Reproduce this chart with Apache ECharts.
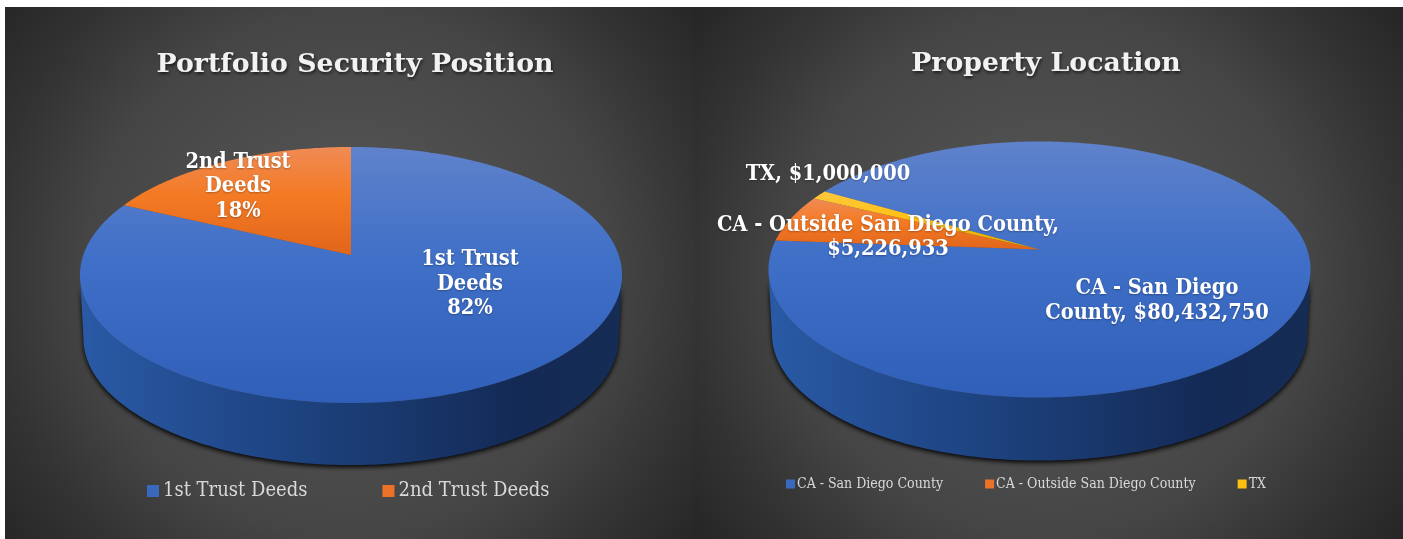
<!DOCTYPE html>
<html>
<head>
<meta charset="utf-8">
<style>
html, body { margin: 0; padding: 0; background: #fff; }
#main { width: 1403px; height: 539px; }
</style>
<script src="https://cdn.jsdelivr.net/npm/echarts@6/dist/echarts.min.js"></script>
</head>
<body>
<div id="main"></div>
<script>
var chartDom = document.getElementById('main');
var myChart = echarts.init(chartDom);
var option;

var securityNames = ['1st Trust Deeds', '2nd Trust Deeds'];
var securityValues = [82, 18];
var securityLabels = [['1st Trust', 'Deeds', '82%'], ['2nd Trust', 'Deeds', '18%']];

var locationNames = ['CA - San Diego County', 'CA - Outside San Diego County', 'TX'];
var locationValues = [80432750, 5226933, 1000000];
var locationLabels = [
    ['CA - San Diego', 'County, $80,432,750'],
    ['CA - Outside San Diego County,', '$5,226,933'],
    ['TX, $1,000,000']
];

var serifFont = '"DejaVu Serif Condensed", "DejaVu Serif", serif';
var titleFont = '"DejaVu Serif", serif';

// top face of each slice, light to dark going down
var topStops = [
    [{ offset: 0, color: '#5f82cb' }, { offset: 0.45, color: '#3f6fc7' }, { offset: 1, color: '#2f5fb8' }],
    [{ offset: 0, color: '#ef8b55' }, { offset: 0.45, color: '#f47a24' }, { offset: 1, color: '#e1651b' }],
    [{ offset: 0, color: '#ffc840' }, { offset: 0.5, color: '#ffc010' }, { offset: 1, color: '#e0a800' }]
];
var legendColors = ['#3a68bd', '#ec7228', '#fdbf12'];

// the rim of the pie is drawn in perspective, far side a bit squashed
var K = 0.15625;
var RX = 267.7;
var RY = 124.9;
var FRONT = Math.acos(-K) * 180 / Math.PI;

function rim(pie, deg) {
    var t = deg * Math.PI / 180;
    var w = 1 + K * Math.cos(t);
    return [pie.cx + RX * Math.sin(t) / w, pie.cy - RY * Math.cos(t) / w];
}

function rimBottom(pie, deg) {
    var p = rim(pie, deg);
    return [pie.cx + (p[0] - pie.cx) * 0.987, pie.cy + (p[1] - pie.cy) * 0.987 + pie.depth];
}

function makePie(pie) {
    var total = pie.values.reduce(function (a, b) { return a + b; }, 0);
    var series = [];
    var start = pie.firstAngle;

    pie.values.forEach(function (value, i) {
        var from = start;
        var sweep = value / total * 360;
        start += sweep;

        // side wall, only the part facing the viewer
        series.push({
            type: 'custom',
            name: pie.names[i],
            coordinateSystem: 'none',
            silent: true,
            z: 2,
            data: [[value]],
            renderItem: function () {
                var upper = [];
                var lower = [];
                for (var d = FRONT; d <= 360 - FRONT; d += 1) {
                    var inSlice = ((d - from) % 360 + 360) % 360 <= sweep;
                    if (inSlice) {
                        upper.push(rim(pie, d));
                        lower.unshift(rimBottom(pie, d));
                    }
                }
                if (!upper.length) {
                    return null;
                }
                return {
                    type: 'polygon',
                    shape: { points: upper.concat(lower) },
                    style: {
                        fill: new echarts.graphic.LinearGradient(0, 0, 1, 0, [
                            { offset: 0, color: '#2a5aa6' },
                            { offset: 0.3, color: '#204889' },
                            { offset: 0.55, color: '#1a3a70' },
                            { offset: 0.8, color: '#142a56' },
                            { offset: 1, color: '#152c54' }
                        ]),
                        shadowBlur: 5,
                        shadowOffsetY: 2,
                        shadowColor: 'rgba(0,0,0,1)'
                    }
                };
            }
        });

        // top face
        series.push({
            type: 'custom',
            name: pie.names[i],
            coordinateSystem: 'none',
            silent: true,
            z: 3,
            data: [[value]],
            renderItem: function (params, api) {
                var sw = api.value(0) / total * 360;
                var pts = [[pie.cx, pie.cy]];
                var steps = Math.ceil(sw);
                for (var s = 0; s <= steps; s++) {
                    pts.push(rim(pie, from + sw * s / steps));
                }
                return {
                    type: 'polygon',
                    shape: { points: pts },
                    style: { fill: new echarts.graphic.LinearGradient(0, 0, 0, 1, topStops[i]) }
                };
            }
        });

        // data label
        series.push({
            type: 'custom',
            name: pie.names[i],
            coordinateSystem: 'none',
            silent: true,
            z: 5,
            data: [[value]],
            renderItem: function () {
                return {
                    type: 'text',
                    style: {
                        x: pie.labelPos[i][0],
                        y: pie.labelPos[i][1],
                        text: pie.labels[i].join('\n'),
                        align: 'center',
                        verticalAlign: 'middle',
                        lineHeight: 24.5,
                        font: 'bold ' + pie.labelSize + 'px ' + serifFont,
                        fill: '#ffffff',
                        textShadowColor: 'rgba(0,0,0,0.3)',
                        textShadowBlur: 2,
                        textShadowOffsetX: 0,
                        textShadowOffsetY: 1
                    }
                };
            }
        });
    });
    return series;
}

var securityPie = {
    names: securityNames,
    values: securityValues,
    labels: securityLabels,
    firstAngle: 0,
    cx: 351,
    cy: 255,
    depth: 64,
    labelSize: 21.6,
    labelPos: [[470, 284], [238, 186.5]]
};

var locationPie = {
    names: locationNames,
    values: locationValues,
    labels: locationLabels,
    firstAngle: 300,
    cx: 1039.5,
    cy: 249.5,
    depth: 65,
    labelSize: 21.6,
    labelPos: [[1157, 301], [888, 237.5], [828, 174]]
};

function panel(x, width) {
    var cx = x + width / 2;
    return {
        type: 'rect',
        silent: true,
        shape: { x: x, y: 7, width: width, height: 532 },
        style: {
            fill: new echarts.graphic.RadialGradient(cx, 273, 440, [
                { offset: 0, color: '#5a5a5a' },
                { offset: 0.6, color: '#454545' },
                { offset: 0.8, color: '#343434' },
                { offset: 1, color: '#262626' }
            ], true)
        }
    };
}

function titleItem(text, x, y) {
    return {
        text: text,
        left: x,
        top: y,
        textAlign: 'center',
        textVerticalAlign: 'middle',
        textStyle: {
            fontFamily: titleFont,
            fontWeight: 'bold',
            fontSize: 26.8,
            color: '#f2f2f2',
            textShadowColor: 'rgba(0,0,0,0.6)',
            textShadowBlur: 3,
            textShadowOffsetX: 1,
            textShadowOffsetY: 2
        }
    };
}

function legendItems(names) {
    return names.map(function (name, i) {
        return { name: name, icon: 'rect', itemStyle: { color: legendColors[i] } };
    });
}

option = {
    backgroundColor: '#ffffff',
    animation: false,
    graphic: [panel(5, 689), panel(694, 709)],
    title: [
        titleItem('Portfolio Security Position', 350, 60),
        titleItem('Property Location', 1041, 59)
    ],
    legend: [
        {
            left: 142,
            top: 476,
            itemWidth: 12,
            itemHeight: 12,
            itemGap: 75,
            selectedMode: false,
            data: legendItems(securityNames),
            textStyle: { fontFamily: serifFont, fontSize: 20, color: '#d9d9d9', padding: [0, 0, 0, -1] }
        },
        {
            left: 781,
            top: 472,
            itemWidth: 9,
            itemHeight: 9,
            itemGap: 42,
            selectedMode: false,
            data: legendItems(locationNames),
            textStyle: { fontFamily: serifFont, fontSize: 14, color: '#d9d9d9', padding: [0, 0, 0, -3] }
        }
    ],
    series: makePie(securityPie).concat(makePie(locationPie))
};

option && myChart.setOption(option);
</script>
</body>
</html>
